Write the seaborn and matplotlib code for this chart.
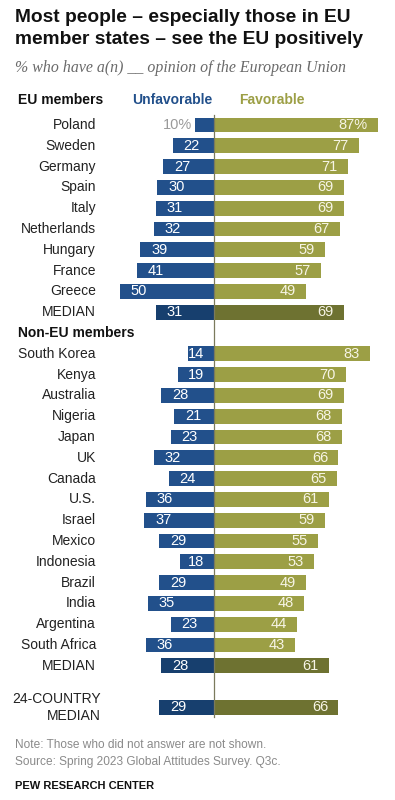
import numpy as np
import pandas as pd
import matplotlib
matplotlib.use('Agg')
import matplotlib.pyplot as plt
import seaborn as sns

# ── Данные ────────────────────────────────────────────────────────────────
eu_countries = ['Poland', 'Sweden', 'Germany', 'Spain', 'Italy', 'Netherlands',
                'Hungary', 'France', 'Greece']
eu_unfav = [10, 22, 27, 30, 31, 32, 39, 41, 50]
eu_fav   = [87, 77, 71, 69, 69, 67, 59, 57, 49]
eu_median = (31, 69)

non_eu_countries = ['South Korea', 'Kenya', 'Australia', 'Nigeria', 'Japan', 'UK',
                    'Canada', 'U.S.', 'Israel', 'Mexico', 'Indonesia', 'Brazil',
                    'India', 'Argentina', 'South Africa']
non_eu_unfav = [14, 19, 28, 21, 23, 32, 24, 36, 37, 29, 18, 29, 35, 23, 36]
non_eu_fav   = [83, 70, 69, 68, 68, 66, 65, 61, 59, 55, 53, 49, 48, 44, 43]
non_eu_median = (28, 61)

all_median = (29, 66)

BLUE, OLIVE = '#22508b', '#9c9f45'
BLUE_D, OLIVE_D = '#173f6e', '#6e7231'

plt.rcParams['font.family'] = ['Liberation Sans', 'DejaVu Sans']

# ── Раскладка строк ───────────────────────────────────────────────────────
rows = []  # (label, pos, unfav, fav, is_median)
pos = 0
for c, u, f in zip(eu_countries, eu_unfav, eu_fav):
    rows.append((c, pos, u, f, False)); pos += 1
rows.append(('MEDIAN', pos, eu_median[0], eu_median[1], True)); pos += 1
header2 = pos; pos += 1
for c, u, f in zip(non_eu_countries, non_eu_unfav, non_eu_fav):
    rows.append((c, pos, u, f, False)); pos += 1
rows.append(('MEDIAN', pos, non_eu_median[0], non_eu_median[1], True)); pos += 2
rows.append(('24-COUNTRY\nMEDIAN', pos, all_median[0], all_median[1], True))

recs = []
for lab, p, u, f, med in rows:
    recs.append({'pos': p, 'val': -u, 'kind': 'unf_med' if med else 'unf'})
    recs.append({'pos': p, 'val': f, 'kind': 'fav_med' if med else 'fav'})
df = pd.DataFrame(recs)

W, H = 395, 800
fig = plt.figure(figsize=(W / 100, H / 100), dpi=100)
ax = fig.add_axes([0, 0, 1, 1])

X0, PXU = 214, 1.885          # нулевая линия, px на 1 п.п.
Y0, PXR = 125, 20.8           # центр первой строки, px на строку

sns.barplot(data=df, x='val', y='pos', hue='kind', orient='y', native_scale=True,
            dodge=False, width=0.72, legend=False, ax=ax,
            palette={'unf': BLUE, 'fav': OLIVE, 'unf_med': BLUE_D, 'fav_med': OLIVE_D},
            saturation=1, linewidth=0)

ax.set_xlim(-X0 / PXU, (W - X0) / PXU)
ax.set_ylim((H - Y0) / PXR, -Y0 / PXR)
ax.axis('off')

last = rows[-1][1]
ax.plot([0, 0], [-0.5, last + 0.48], color='#7b7a5c', lw=0.9, zorder=5)

px = lambda v: -X0 / PXU + v / PXU   # пиксели -> данные по x
for lab, p, u, f, med in rows:
    lx = px(101) if '\n' in lab else px(96)
    ax.text(lx, p, lab, ha='right', va='center', fontsize=10,
            color='#222222', linespacing=1.2)
    # неблагоприятно
    if lab == 'Poland':
        ax.text(-u - 1.5, p, f'{u}%', ha='right', va='center', fontsize=10.5, color='#9a9a9a')
    else:
        cx = min(-u + 10, -9.5)
        ax.text(cx, p, str(u), ha='center', va='center', fontsize=10.5, color='white')
    # благоприятно
    txt = f'{f}%' if lab == 'Poland' else str(f)
    ax.text(f - 5.5, p, txt, ha='right', va='center', fontsize=10.5, color='#f7f5e6')

# заголовки групп
ax.text(px(18), -1.2, 'EU members', ha='left', va='center',
        fontsize=10, fontweight='bold', color='#111111')
ax.text(px(172), -1.2, 'Unfavorable', ha='center', va='center',
        fontsize=10, fontweight='bold', color=BLUE)
ax.text(px(272), -1.2, 'Favorable', ha='center', va='center',
        fontsize=10, fontweight='bold', color=OLIVE)
ax.text(px(18), header2, 'Non-EU members', ha='left', va='center',
        fontsize=10, fontweight='bold', color='#111111')

fig.text(15 / W, 1 - 17 / H, 'Most people – especially those in EU',
         ha='left', va='center', fontsize=13.8, fontweight='bold', color='#111111')
fig.text(15 / W, 1 - 40 / H, 'member states – see the EU positively',
         ha='left', va='center', fontsize=13.8, fontweight='bold', color='#111111')
fig.text(15 / W, 1 - 68 / H, '% who have a(n) __ opinion of the European Union',
         ha='left', va='center', fontsize=11.4, style='italic', color='#6a6a6a',
         family=['Liberation Serif', 'DejaVu Serif'])

fig.text(15 / W, 1 - 745 / H, 'Note: Those who did not answer are not shown.',
         ha='left', va='center', fontsize=8.6, color='#8a8a8a')
fig.text(15 / W, 1 - 762 / H, 'Source: Spring 2023 Global Attitudes Survey. Q3c.',
         ha='left', va='center', fontsize=8.6, color='#8a8a8a')
fig.text(15 / W, 1 - 786 / H, 'PEW RESEARCH CENTER',
         ha='left', va='center', fontsize=8, fontweight='bold', color='#111111')

fig.savefig('out.png', dpi=100, facecolor='white')
